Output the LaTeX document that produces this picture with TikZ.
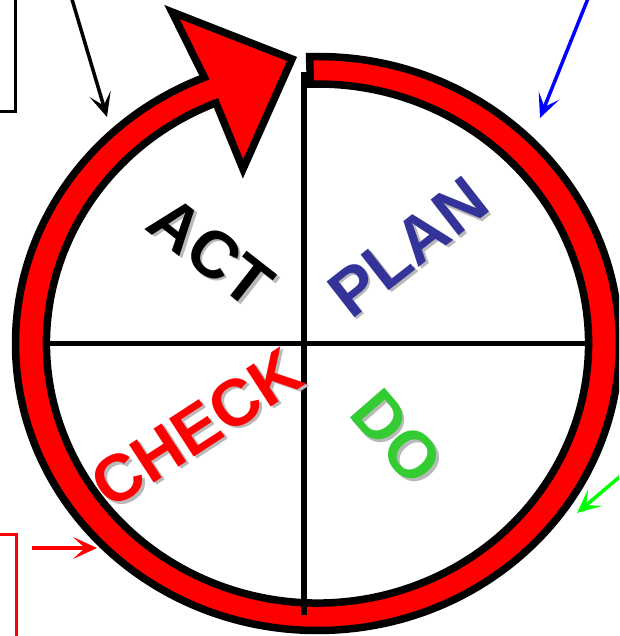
\documentclass[tikz,border=0pt]{standalone}
\usepackage{fontspec}
\setmainfont{Liberation Sans}
\usetikzlibrary{arrows.meta, calc}
\definecolor{colRing}{RGB}{255,0,0}
\definecolor{colPlan}{RGB}{51,51,153}
\definecolor{colDo}{RGB}{51,204,51}
\definecolor{colCheck}{RGB}{255,0,0}
\definecolor{colShadow}{RGB}{185,185,185}
\definecolor{colBlue}{RGB}{0,0,255}
\definecolor{colGreen}{RGB}{0,255,0}
\tikzset{
  ring/.style={fill=colRing, draw=black, line width=7.5pt, line join=miter},
  divider/.style={draw=black, line width=5.5pt},
  word/.style={font=\fontsize{66}{66}\selectfont\bfseries, inner sep=0pt},
  wordShadow/.style={word, text=colShadow},
  pointer/.style={-{Stealth[length=24pt, width=22pt, inset=12pt]}, line width=3.5pt},
  callout/.style={rectangle, draw, line width=3pt, outer sep=0pt, fill=white}
}
\newcommand{\pdcaword}[5]{%
  \node[wordShadow, rotate=#3] (#1Shadow) at ($(#2)+(2.5,-2.5)$) {#5};
  \node[word, rotate=#3, text=#4] (#1) at (#2) {#5};
}

\begin{document}
\begin{tikzpicture}[x=1pt, y=1pt]

  \useasboundingbox (0,0) rectangle (619,636);
  \clip (0,0) rectangle (619,636);

  \coordinate (C) at (317.5,292.5);

  % callout boxes, cut off at the left edge
  \node[callout, draw=black, minimum width=80pt, minimum height=200pt, anchor=south east] (noteAct) at (15.5,524) {};
  \node[callout, draw=colCheck, minimum width=80pt, minimum height=200pt, anchor=north east] (noteCheck) at (16,101) {};

  % the cycle ring with its arrowhead
  \draw[ring] ($(C)+(91.5:302 and 287)$)
    arc[start angle=91.5, end angle=-248, x radius=302, y radius=287]
    -- (172,624) -- (292,577) -- (243,467)
    -- ($(C)+(112:271 and 259.5)$)
    arc[start angle=-248, end angle=91.5, x radius=271, y radius=259.5]
    -- cycle;

  % quadrants
  \coordinate (top) at (304,564);
  \coordinate (bottom) at (304,21);
  \coordinate (left) at (46,292.5);
  \coordinate (right) at (590,292.5);
  \draw[divider] (top) -- (bottom);
  \draw[divider] (left) -- (right);

  % stage words
  \coordinate (actPos) at (211,384);
  \coordinate (planPos) at (408,389);
  \coordinate (checkPos) at (197,208);
  \coordinate (doPos) at (397,199);
  \pdcaword{act}{actPos}{-38}{black}{ACT}
  \pdcaword{plan}{planPos}{38}{colPlan}{PLAN}
  \pdcaword{check}{checkPos}{33}{colCheck}{CHECK}
  \pdcaword{do}{doPos}{-49}{colDo}{DO}

  % pointers from the notes
  \coordinate (actFrom) at (71,640);
  \coordinate (actTo) at (107,519);
  \coordinate (planFrom) at (589,640);
  \coordinate (planTo) at (540,518);
  \coordinate (doFrom) at (630,168);
  \coordinate (doTo) at (577,123);
  \coordinate (checkFrom) at (32,88);
  \coordinate (checkTo) at (97,88);
  \draw[pointer, black] (actFrom) -- (actTo);
  \draw[pointer, colBlue] (planFrom) -- (planTo);
  \draw[pointer, colGreen] (doFrom) -- (doTo);
  \draw[pointer, colCheck] (checkFrom) -- (checkTo);

\end{tikzpicture}
\end{document}
